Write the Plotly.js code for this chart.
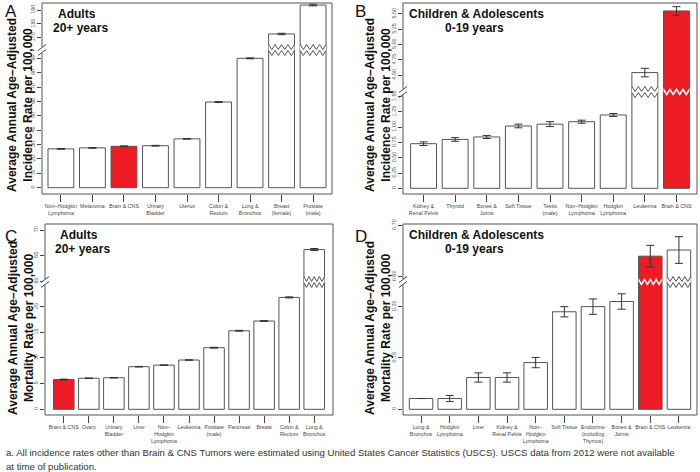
<!DOCTYPE html>
<html><head><meta charset="utf-8">
<script src="https://cdn.plot.ly/plotly-3.0.1.min.js"></script>
<style>html,body{margin:0;padding:0;background:#fff}#chart{width:700px;height:472px}</style>
</head><body><div id="chart"></div>
<script>
// ---------------- DATA ----------------
const catsA = ["Non–Hodgkin<br>Lymphoma","Melanoma","Brain & CNS","Urinary<br>Bladder","Uterus","Colon &<br>Rectum","Lung &<br>Bronchus","Breast<br>(female)","Prostate<br>(male)"];
const valsA = [27.0, 27.7, 28.8, 29.2, 34.0, 59.6, 90.0, 172.7, 193.6];
const errA  = [0.25, 0.25, 0.3, 0.25, 0.25, 0.3, 0.35, 0.5, 0.6];

const catsB = ["Kidney &<br>Renal Pelvis","Thyroid","Bones &<br>Joints","Soft Tissue","Testis<br>(male)","Non–Hodgkin<br>Lymphoma","Hodgkin<br>Lymphoma","Leukemia","Brain & CNS"];
const valsB = [0.73, 0.80, 0.84, 1.02, 1.05, 1.09, 1.20, 4.54, 5.55];
const errB  = [0.03, 0.03, 0.025, 0.03, 0.04, 0.025, 0.025, 0.07, 0.07];

const catsC = ["Brain & CNS","Ovary","Urinary<br>Bladder","Liver","Non–<br>Hodgkin<br>Lymphoma","Leukemia","Prostate<br>(male)","Pancreas","Breast","Colon &<br>Rectum","Lung &<br>Bronchus"];
const valsC = [5.8, 6.05, 6.15, 8.3, 8.6, 9.6, 12.0, 15.3, 17.2, 21.8, 66.2];
const errC  = [0.08, 0.05, 0.05, 0.05, 0.05, 0.05, 0.08, 0.08, 0.08, 0.1, 0.2];

const catsD = ["Lung &<br>Bronchus","Hodgkin<br>Lymphoma","Liver","Kidney &<br>Renal Pelvis","Non–<br>Hodgkin<br>Lymphoma","Soft Tissue","Endocrine<br>(including<br>Thymus)","Bones &<br>Joints","Brain & CNS","Leukemia"];
const valsD = [0.021, 0.021, 0.062, 0.062, 0.091, 0.190, 0.200, 0.210, 0.640, 0.652];
const errD  = [0, 0.006, 0.009, 0.009, 0.010, 0.010, 0.015, 0.015, 0.021, 0.026];

const tickA_low = [0,10,20,30,40,50,60,70,80,90];
const labA_low  = ["0","10","20","30","40","50","60","70","80","90"];
const tickA_up  = [170,180,190];
const labA_up   = ["170","180","190"];
const tickB_low = [0,0.25,0.5,0.75,1,1.25,1.5];
const labB_low  = ["0","0.25","0.50","0.75","1.00","1.25","1.50"];
const tickB_up  = [4.5,4.75,5,5.25,5.5];
const labB_up   = ["4.50","4.75","5.00","5.25","5.50"];
const tickC_low = [0,5,10,15,20];
const labC_low  = ["0","5","10","15","20"];
const tickC_up  = [60,65,70];
const labC_up   = ["60","65","70"];
const tickD_low = [0,0.1,0.2];
const labD_low  = ["0","0.10","0.20"];
const tickD_up  = [0.6,0.7];
const labD_up   = ["0.60","0.70"];

const HIGHLIGHT = "Brain & CNS";

// ---------------- LAYOUT GEOMETRY (pixels) ----------------
const W = 700, H = 472;
const RED = "#ed1c24", EDGE = "#555555";
const panels = [
  {n:1, cats:catsA, vals:valsA, err:errA, box:{l:42,r:332,t:3,b:194}, brk:50, xr:[-0.6,8.6], lo:[-4.38,95.8], up:[161.1,195.1],
   tl:tickA_low, ll:labA_low, tu:tickA_up, lu:labA_up},
  {n:2, cats:catsB, vals:valsB, err:errB, box:{l:403,r:697,t:3,b:194}, brk:92, xr:[-0.65,8.65], lo:[-0.093,1.576], up:[4.222,5.68],
   tl:tickB_low, ll:labB_low, tu:tickB_up, lu:labB_up},
  {n:3, cats:catsC, vals:valsC, err:errC, box:{l:45,r:333,t:224,b:415}, brk:282, xr:[-0.75,10.75], lo:[-1.11,24.8], up:[59.87,71.18],
   tl:tickC_low, ll:labC_low, tu:tickC_up, lu:labC_up},
  {n:4, cats:catsD, vals:valsD, err:errD, box:{l:403,r:697,t:224,b:415}, brk:282, xr:[-0.63,9.63], lo:[-0.0111,0.248], up:[0.5897,0.7027],
   tl:tickD_low, ll:labD_low, tu:tickD_up, lu:labD_up}
];
const BARGAP = 0.18;
const FONT = "Liberation Sans, Arial, Helvetica, sans-serif";

const py = p => 1 - p / H;
const px = p => p / W;

const traces = [];
const layout = {
  width: W, height: H, margin:{l:0,r:0,t:0,b:0},
  paper_bgcolor:"#fff", plot_bgcolor:"rgba(0,0,0,0)",
  showlegend:false, barmode:"overlay", bargap:BARGAP,
  font:{family:FONT, color:"#222"},
  shapes:[], annotations:[]
};

panels.forEach(p => {
  const xs = p.cats.map((_, i) => i);
  const colors = p.cats.map(c => c === HIGHLIGHT ? RED : "#ffffff");
  const xid = "x" + p.n, yLow = "y" + p.n, yUp = "y" + (p.n + 4);
  const base = {
    type:"bar", x:xs, y:p.vals, xaxis:xid,
    marker:{color:colors, line:{color:EDGE, width:1}},
    error_y:{type:"data", array:p.err, visible:true, color:"#333", thickness:1, width:4},
    hoverinfo:"skip"
  };
  traces.push(Object.assign({}, base, {yaxis:yLow}));
  traces.push(Object.assign({}, base, {yaxis:yUp}));

  const xk = p.n === 1 ? "xaxis" : "xaxis" + p.n;
  const ylk = p.n === 1 ? "yaxis" : "yaxis" + p.n;
  const yuk = "yaxis" + (p.n + 4);
  layout[xk] = {
    domain:[px(p.box.l), px(p.box.r)], anchor:yLow, range:p.xr, type:"linear",
    tickmode:"array", tickvals:xs, ticktext:p.cats, tickangle:0,
    ticks:"outside", ticklen:7, tickwidth:1, tickcolor:"#444",
    tickfont:{size:5.3, color:"#444", family:FONT},
    showline:false, showgrid:false, zeroline:false, fixedrange:true
  };
  const yCommon = {
    anchor:xid, ticks:"outside", ticklen:4, tickwidth:1, tickcolor:"#444",
    tickangle:-90, tickfont:{size:5.5, color:"#555", family:FONT},
    showline:false, showgrid:false, zeroline:false, fixedrange:true, tickmode:"array"
  };
  layout[ylk] = Object.assign({}, yCommon, {domain:[py(p.box.b), py(p.brk)], range:p.lo, tickvals:p.tl, ticktext:p.ll});
  layout[yuk] = Object.assign({}, yCommon, {domain:[py(p.brk), py(p.box.t)], range:p.up, tickvals:p.tu, ticktext:p.lu});

  // frame box
  layout.shapes.push({type:"rect", xref:"paper", yref:"paper", x0:px(p.box.l), x1:px(p.box.r), y0:py(p.box.b), y1:py(p.box.t),
    line:{color:EDGE, width:1}, fillcolor:"rgba(0,0,0,0)"});
  // axis break mark "//"
  const L = p.box.l;
  layout.shapes.push({type:"rect", xref:"paper", yref:"paper", x0:px(L-2), x1:px(L+2), y0:py(p.brk+3), y1:py(p.brk-3),
    line:{width:0}, fillcolor:"#fff"});
  [-2.5, 2.5].forEach(d => {
    layout.shapes.push({type:"line", xref:"paper", yref:"paper",
      x0:px(L-4), y0:py(p.brk+d+3), x1:px(L+4), y1:py(p.brk+d-3), line:{color:"#444", width:1}});
  });
  // zigzags on bars crossing the break
  const hw = (1 - BARGAP) / 2, nT = 4, amp = 2.5;
  p.vals.forEach((v, i) => {
    if (v <= p.lo[1]) return;
    const red = p.cats[i] === HIGHLIGHT;
    const gap = red ? 3 : 6;
    const zig = (yc) => {
      const pts = [];
      for (let k = 0; k <= 2 * nT; k++) {
        const x = i - hw + k * (2 * hw) / (2 * nT);
        const y = yc + (k % 2 === 0 ? -amp : amp);
        pts.push([x, py(y)]);
      }
      return pts;
    };
    const top = zig(p.brk - gap / 2), bot = zig(p.brk + gap / 2);
    const band = "M" + top.map(q => q[0] + "," + q[1]).join(" L") + " L" + bot.slice().reverse().map(q => q[0] + "," + q[1]).join(" L") + " Z";
    layout.shapes.push({type:"path", xref:xid, yref:"paper", path:band, fillcolor:"#fff", line:{width:0}});
    if (!red) {
      [top, bot].forEach(z => {
        layout.shapes.push({type:"path", xref:xid, yref:"paper",
          path:"M" + z.map(q => q[0] + "," + q[1]).join(" L"), line:{color:EDGE, width:1}});
      });
    }
  });
});

// ---------------- TEXT ----------------
function ann(text, x, y, opts) {
  layout.annotations.push(Object.assign({text:text, xref:"paper", yref:"paper", x:px(x), y:py(y), showarrow:false,
    xanchor:"left", yanchor:"top", font:{family:FONT, size:12, color:"#111"}}, opts || {}));
}
ann("A", 3, 0, {font:{family:FONT, size:17, color:"#111"}});
ann("B", 353, 0, {font:{family:FONT, size:17, color:"#111"}});
ann("C", 3, 225, {font:{family:FONT, size:17, color:"#111"}});
ann("D", 353, 225, {font:{family:FONT, size:17, color:"#111"}});

const ytitle = (l2, x, yc) => ann("<b>Average Annual Age–Adjusted</b><br><b>" + l2 + "</b>", x, yc,
  {textangle:-90, xanchor:"center", yanchor:"middle", font:{family:FONT, size:12, color:"#111"}});
ytitle("Incidence Rate per 100,000", 20, 105);
ytitle("Incidence Rate per 100,000", 378, 105);
ytitle("Mortality Rate per 100,000", 21, 328);
ytitle("Mortality Rate per 100,000", 378, 328);

ann("<b>Adults</b>", 56, 5);
ann("<b>20+ years</b>", 51, 19);
ann("<b>Adults</b>", 58, 226);
ann("<b>20+ years</b>", 53, 240);
ann("<b>Children & Adolescents</b>", 407, 5);
ann("<b>0-19 years</b>", 474, 19, {xanchor:"center"});
ann("<b>Children & Adolescents</b>", 407, 226);
ann("<b>0-19 years</b>", 474, 240, {xanchor:"center"});

ann("a. All incidence rates other than Brain & CNS Tumors were estimated using United States Cancer Statistics (USCS). USCS data from 2012 were not available", 4, 445,
  {font:{family:FONT, size:9.6, color:"#333"}});
ann("at time of publication.", 4, 459, {font:{family:FONT, size:9.6, color:"#333"}});

Plotly.newPlot("chart", traces, layout, {displayModeBar:false, staticPlot:true});
</script>
</body></html>
